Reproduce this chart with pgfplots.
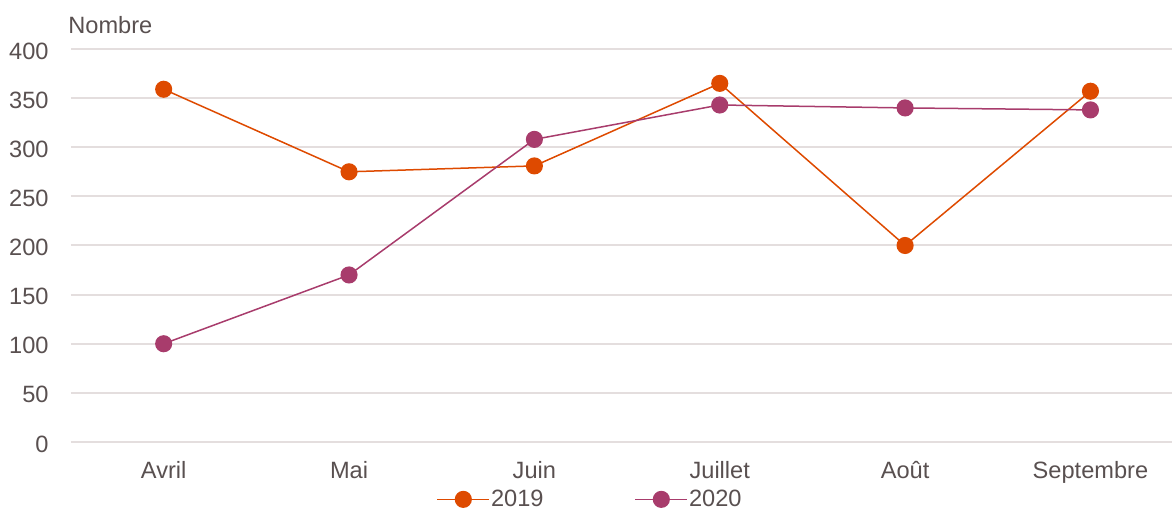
\documentclass[border=0pt]{standalone}
\usepackage{pgfplots}
\pgfplotsset{compat=1.18}
\usepackage{fontspec}
\setmainfont{Liberation Sans}
\usetikzlibrary{calc}
\definecolor{c19}{RGB}{222,74,0}
\definecolor{c20}{RGB}{168,60,108}
\definecolor{txt}{RGB}{89,80,80}
\definecolor{gridc}{RGB}{228,222,222}
\begin{document}
\begin{tikzpicture}[font=\fontsize{11.8}{14}\selectfont, text=txt]
\begin{axis}[
  scale only axis, width=550.5pt, height=196.5pt,
  xmin=-0.5, xmax=5.44, ymin=0, ymax=400,
  xtick={0,1,2,3,4,5},
  xticklabels={Avril,Mai,Juin,Juillet,Août,Septembre},
  ytick={0,50,...,400},
  xmajorgrids=false, ymajorgrids=true,
  major grid style={draw=gridc, line width=1pt},
  axis line style={draw=none},
  major tick length=0pt,
  /pgf/number format/assume math mode=true,
  yticklabel style={anchor=east, inner sep=0pt, xshift=-11pt, yshift=-1pt, text=txt},
  xticklabel style={anchor=base, inner sep=0pt, yshift=-18.5pt, text=txt},
  clip=false,
  legend columns=2,
  legend style={draw=none, fill=none, at={(0.471,-0.146)}, anchor=center,
    /tikz/every even column/.append style={column sep=45pt},
    nodes={inner sep=0.5pt, text=txt}},
  legend cell align=left,
  legend image code/.code={\draw[mark repeat=2,mark phase=2,#1] plot coordinates {(0pt,0pt)(13pt,0pt)(26pt,0pt)};},
]
\addplot[c19, line width=0.75pt, mark=*, mark size=3.9pt, mark options={fill=c19, draw=c19}]
  coordinates {(0,359)(1,275)(2,281)(3,365)(4,200)(5,357)};
\addlegendentry{2019}
\addplot[c20, line width=0.75pt, mark=*, mark size=3.9pt, mark options={fill=c20, draw=c20}]
  coordinates {(0,100)(1,170)(2,308)(3,343)(4,340)(5,338)};
\addlegendentry{2020}
\coordinate (SW) at (rel axis cs:0,0);
\coordinate (NE) at (rel axis cs:1,1);
\node[anchor=base west, inner sep=0pt, text=txt] at ($(rel axis cs:0,1)+(-1.5pt,7.5pt)$) {Nombre};
\end{axis}
\pgfresetboundingbox
\path[use as bounding box] ($(SW)+(-35.5pt,-34pt)$) rectangle ($(NE)+(0pt,24.5pt)$);
\end{tikzpicture}
\end{document}
